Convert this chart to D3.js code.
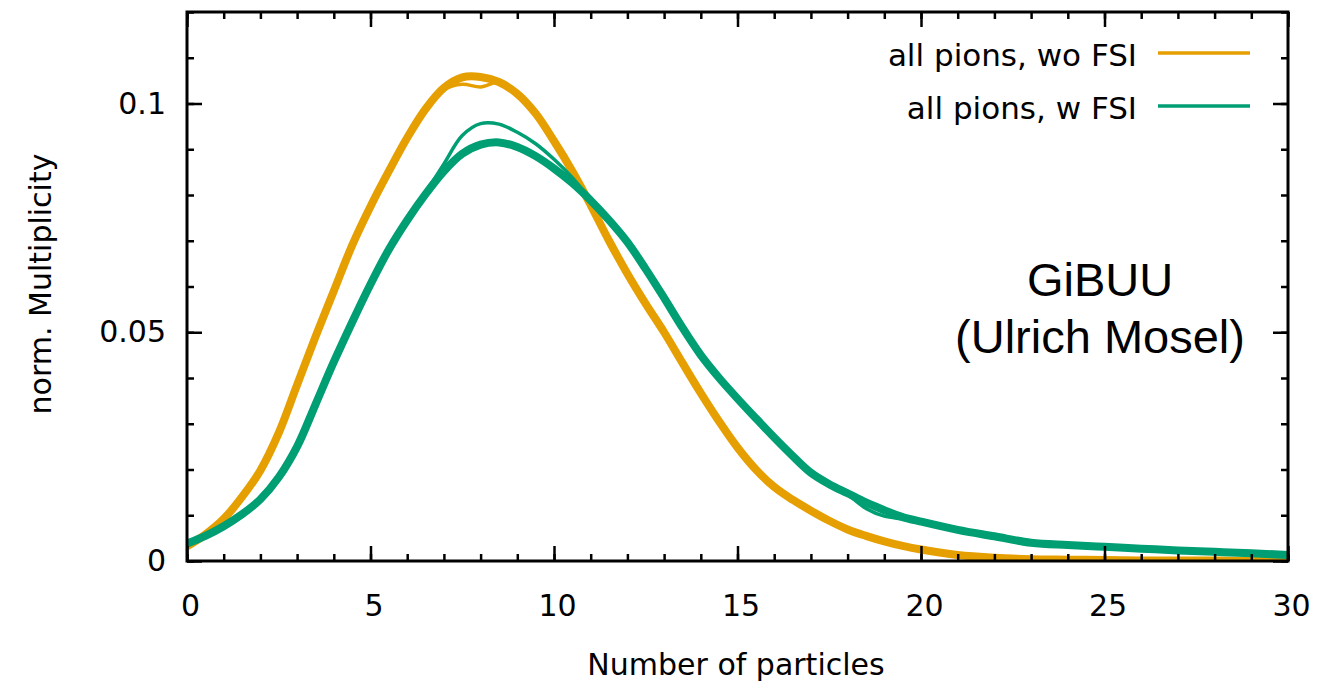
<!DOCTYPE html>
<html>
<head>
<meta charset="utf-8">
<script src="https://cdn.jsdelivr.net/npm/d3@7"></script>
<style>
    body { margin: 0; background: #fff; }
    #chart-area { width: 1318px; height: 685px; }
    text { font-family: "DejaVu Sans", sans-serif; fill: #000; }
</style>
</head>
<body>
<div id="chart-area"></div>
<script>

// number of particles (x positions of the sampled curves)
const particles = [0, 0.5, 1, 1.5, 2, 2.5, 3, 3.5, 4, 4.5, 5, 5.5, 6, 6.5, 7, 7.5, 8, 8.5, 9, 9.5,
    10, 10.5, 11, 11.5, 12, 12.5, 13, 13.5, 14, 14.5, 15, 15.5, 16, 16.5, 17, 17.5, 18, 18.5, 19, 19.5,
    20, 21, 22, 23, 24, 25, 26, 27, 28, 29, 30];

// all pions, without FSI (main band + the run with the dip at the peak)
const woFsiMain = [0.0032, 0.0058, 0.0092, 0.0140, 0.0198, 0.0280, 0.0385, 0.0490, 0.0590, 0.0690,
    0.0775, 0.0852, 0.0925, 0.0988, 0.1034, 0.1057, 0.1058, 0.1047, 0.1021, 0.0978,
    0.0918, 0.0852, 0.0778, 0.0700, 0.0628, 0.0562, 0.0500, 0.0433, 0.0367, 0.0305,
    0.0248, 0.0200, 0.0162, 0.0134, 0.0110, 0.0088, 0.0069, 0.0055, 0.0043, 0.0033,
    0.0025, 0.0013, 0.0007, 0.0004, 0.0003, 0.0002, 0.0001, 0.0001, 0.0001, 0.0000, 0.0000];
const woFsiRun2 = [0.0032, 0.0058, 0.0092, 0.0140, 0.0198, 0.0280, 0.0385, 0.0490, 0.0590, 0.0690,
    0.0775, 0.0852, 0.0925, 0.0985, 0.1030, 0.1042, 0.1036, 0.1046, 0.1020, 0.0978,
    0.0918, 0.0852, 0.0778, 0.0700, 0.0628, 0.0562, 0.0500, 0.0433, 0.0367, 0.0305,
    0.0248, 0.0200, 0.0162, 0.0134, 0.0110, 0.0088, 0.0069, 0.0055, 0.0043, 0.0033,
    0.0025, 0.0013, 0.0007, 0.0004, 0.0003, 0.0002, 0.0001, 0.0001, 0.0001, 0.0000, 0.0000];

// all pions, with FSI (main band + the run with the higher peak)
const wFsiMain = [0.0038, 0.0055, 0.0076, 0.0102, 0.0135, 0.0183, 0.0250, 0.0342, 0.0435, 0.0522,
    0.0605, 0.0681, 0.0745, 0.0802, 0.0852, 0.0890, 0.0910, 0.0915, 0.0905, 0.0885,
    0.0858, 0.0826, 0.0788, 0.0745, 0.0697, 0.0638, 0.0575, 0.0510, 0.0450, 0.0400,
    0.0355, 0.0312, 0.0270, 0.0230, 0.0193, 0.0168, 0.0148, 0.0128, 0.0111, 0.0096,
    0.0086, 0.0068, 0.0054, 0.0040, 0.0035, 0.0031, 0.0027, 0.0023, 0.0020, 0.0017, 0.0013];
const wFsiRun2 = [0.0038, 0.0055, 0.0076, 0.0102, 0.0135, 0.0183, 0.0250, 0.0342, 0.0435, 0.0522,
    0.0605, 0.0681, 0.0745, 0.0805, 0.0868, 0.0930, 0.0956, 0.0955, 0.0937, 0.0912,
    0.0878, 0.0838, 0.0790, 0.0745, 0.0697, 0.0638, 0.0575, 0.0510, 0.0450, 0.0400,
    0.0355, 0.0312, 0.0270, 0.0230, 0.0193, 0.0168, 0.0145, 0.0115, 0.0098, 0.0092,
    0.0086, 0.0068, 0.0054, 0.0040, 0.0035, 0.0031, 0.0027, 0.0023, 0.0020, 0.0017, 0.0013];

const seriesNames = ["all pions, wo FSI", "all pions, w FSI"];
const xTickValues = [0, 5, 10, 15, 20, 25, 30];
const xTickLabels = ["0", "5", "10", "15", "20", "25", "30"];
const yTickValues = [0, 0.05, 0.1];
const yTickLabels = ["0", "0.05", "0.1"];
const annotationLines = ["GiBUU", "(Ulrich Mosel)"];


class MultiplicityChart {

    constructor(parentElement) {
        this.parentElement = parentElement;
        this.initVis();
    }

    initVis() {
        let vis = this;

        vis.margin = {top: 12, right: 30, bottom: 124, left: 187};
        vis.width = 1318 - vis.margin.left - vis.margin.right;
        vis.height = 685 - vis.margin.top - vis.margin.bottom;

        vis.svg = d3.select("#" + vis.parentElement).append("svg")
            .attr("width", vis.width + vis.margin.left + vis.margin.right)
            .attr("height", vis.height + vis.margin.top + vis.margin.bottom)
            .append("g")
            .attr("transform", `translate(${vis.margin.left}, ${vis.margin.top})`);

        vis.x = d3.scaleLinear().domain([0, 30]).range([0, vis.width]);
        vis.y = d3.scaleLinear().domain([0, 0.12]).range([vis.height, 0]);

        vis.colors = {"wo": "#E69F00", "w": "#009E73"};

        vis.svg.append("clipPath")
            .attr("id", "plot-clip")
            .append("rect")
            .attr("width", vis.width)
            .attr("height", vis.height);

        vis.line = d3.line()
            .curve(d3.curveCatmullRom.alpha(0.5))
            .x(d => vis.x(d.n))
            .y(d => vis.y(d.value));

        vis.wrangleData();
    }

    wrangleData() {
        let vis = this;

        const zip = values => particles.map((n, i) => ({n: n, value: values[i]}));

        // draw order: orange first, green on top
        vis.displayData = [
            {key: "wo", width: 8, points: zip(woFsiMain)},
            {key: "wo", width: 3.5, points: zip(woFsiRun2)},
            {key: "w", width: 8, points: zip(wFsiMain)},
            {key: "w", width: 3.5, points: zip(wFsiRun2)}
        ];

        vis.updateVis();
    }

    updateVis() {
        let vis = this;

        vis.svg.append("g")
            .attr("clip-path", "url(#plot-clip)")
            .selectAll(".curve")
            .data(vis.displayData)
            .enter()
            .append("path")
            .attr("class", "curve")
            .attr("fill", "none")
            .attr("stroke", d => vis.colors[d.key])
            .attr("stroke-width", d => d.width)
            .attr("stroke-linejoin", "round")
            .attr("d", d => vis.line(d.points));

        // ticks on all four sides, pointing inwards
        const minorX = d3.range(0, 31, 1);
        const minorY = d3.range(0, 0.1201, 0.01);
        const axes = [
            {axis: d3.axisBottom(vis.x).tickValues(minorX).tickSize(-7), t: `translate(0, ${vis.height})`},
            {axis: d3.axisTop(vis.x).tickValues(minorX).tickSize(-7), t: "translate(0, 0)"},
            {axis: d3.axisLeft(vis.y).tickValues(minorY).tickSize(-7), t: "translate(0, 0)"},
            {axis: d3.axisRight(vis.y).tickValues(minorY).tickSize(-7), t: `translate(${vis.width}, 0)`},
            {axis: d3.axisTop(vis.x).tickValues(xTickValues).tickSize(-15), t: "translate(0, 0)"},
            {axis: d3.axisRight(vis.y).tickValues(yTickValues).tickSize(-15), t: `translate(${vis.width}, 0)`}
        ];
        axes.forEach(a => {
            vis.svg.append("g")
                .attr("transform", a.t)
                .call(a.axis.tickFormat(""))
                .call(g => g.select(".domain").remove())
                .call(g => g.selectAll("line").attr("stroke", "#000").attr("stroke-width", 2.5));
        });

        vis.svg.append("g")
            .attr("class", "x-axis")
            .attr("transform", `translate(0, ${vis.height})`)
            .call(d3.axisBottom(vis.x)
                .tickValues(xTickValues)
                .tickSize(-15)
                .tickPadding(34)
                .tickFormat((d, i) => xTickLabels[i]))
            .call(g => g.select(".domain").remove())
            .call(g => g.selectAll("line").attr("stroke", "#000").attr("stroke-width", 2.5))
            .call(g => g.selectAll("text")
                .attr("dx", 3)
                .style("font-family", "DejaVu Sans")
                .style("font-size", "30px")
                .attr("fill", "#000"));

        vis.svg.append("g")
            .attr("class", "y-axis")
            .call(d3.axisLeft(vis.y)
                .tickValues(yTickValues)
                .tickSize(-15)
                .tickPadding(21)
                .tickFormat((d, i) => yTickLabels[i]))
            .call(g => g.select(".domain").remove())
            .call(g => g.selectAll("line").attr("stroke", "#000").attr("stroke-width", 2.5))
            .call(g => g.selectAll("text")
                .style("font-family", "DejaVu Sans")
                .style("font-size", "30px")
                .attr("fill", "#000"));

        // frame
        vis.svg.append("rect")
            .attr("width", vis.width)
            .attr("height", vis.height)
            .attr("fill", "none")
            .attr("stroke", "#000")
            .attr("stroke-width", 3);

        // axis titles
        vis.svg.append("text")
            .attr("x", 736 - vis.margin.left)
            .attr("y", 675 - vis.margin.top)
            .attr("text-anchor", "middle")
            .style("font-size", "30px")
            .text("Number of particles");

        vis.svg.append("text")
            .attr("transform", `translate(${51 - vis.margin.left}, ${284 - vis.margin.top}) rotate(-90)`)
            .attr("text-anchor", "middle")
            .style("font-size", "30px")
            .text("norm. Multiplicity");

        // legend
        const legend = vis.svg.append("g")
            .attr("transform", `translate(${1137 - vis.margin.left}, ${53 - vis.margin.top})`);

        const items = legend.selectAll(".legend-item")
            .data(seriesNames)
            .enter()
            .append("g")
            .attr("class", "legend-item")
            .attr("transform", (d, i) => `translate(0, ${i * 53})`);

        items.append("text")
            .attr("y", 13)
            .attr("text-anchor", "end")
            .style("font-size", "31px")
            .text(d => d);

        items.append("line")
            .attr("x1", 21)
            .attr("x2", 113)
            .attr("stroke", (d, i) => i === 0 ? vis.colors.wo : vis.colors.w)
            .attr("stroke-width", 3.5);

        // annotation
        vis.svg.append("g")
            .selectAll(".annotation")
            .data(annotationLines)
            .enter()
            .append("text")
            .attr("class", "annotation")
            .attr("x", 1100 - vis.margin.left)
            .attr("y", (d, i) => 296 - vis.margin.top + i * 57)
            .attr("text-anchor", "middle")
            .style("font-family", "'Liberation Sans', Arial, sans-serif")
            .style("font-size", "47px")
            .attr("fill", "#222")
            .text(d => d);
    }
}

new MultiplicityChart("chart-area");

</script>
</body>
</html>
